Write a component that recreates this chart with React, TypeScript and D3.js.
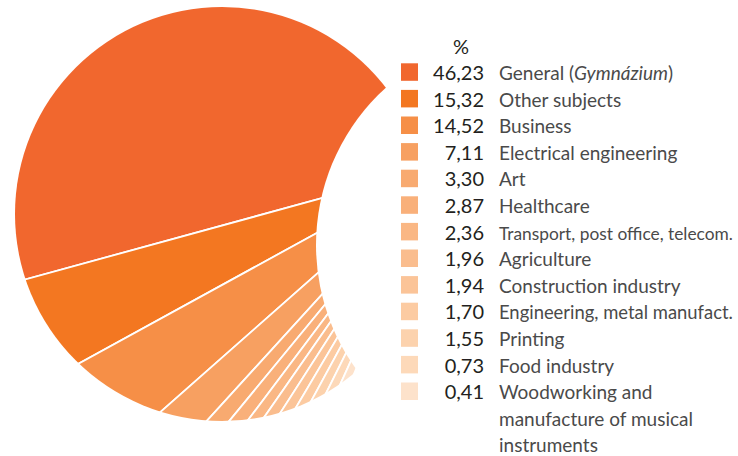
import React, { useLayoutEffect, useRef } from 'react';
import * as d3 from 'd3';

const categories = [
  'General (Gymnázium)',
  'Other subjects',
  'Business',
  'Electrical engineering',
  'Art',
  'Healthcare',
  'Transport, post office, telecom.',
  'Agriculture',
  'Construction industry',
  'Engineering, metal manufact.',
  'Printing',
  'Food industry',
  'Woodworking and manufacture of musical instruments',
];
const values = [46.23, 15.32, 14.52, 7.11, 3.3, 2.87, 2.36, 1.96, 1.94, 1.7, 1.55, 0.73, 0.41];
const colors = [
  '#f1672e', '#f37721', '#f68f47', '#f7a061', '#f8aa70', '#f9b07a', '#fab784',
  '#fabd8e', '#fbc498', '#fccba2', '#fcd2ad', '#fdd9b9', '#fde2cb',
];
const generalParts = ['General (', 'Gymnázium', ')'];
const woodLines = ['Woodworking and', 'manufacture of musical', 'instruments'];

const W = 738;
const H = 456;
const FAN = { x: 439, y: 166, r: 560 };
const OUTER = { x: 222, y: 214, r: 207 };
const CUT = { x: 528, y: 245, r: 212 };
const DEG_PER_PCT = 0.875;
const MIN_PCT = 2.4;
const START_DEG = 254.66;
const LABEL_X = 499;
const LABEL_FS = 19;
const MAX_LABEL_W = W - LABEL_X - 5;

const fmt = (v: number) => d3.format('.2f')(v).replace('.', ',');

export default function App() {
  const legendRef = useRef<SVGGElement>(null);

  useLayoutEffect(() => {
    if (!legendRef.current) return;
    d3.select(legendRef.current)
      .selectAll<SVGTextElement, unknown>('text.lbl')
      .each(function () {
        const w = this.getComputedTextLength();
        if (w > MAX_LABEL_W) {
          this.setAttribute('font-size', String((LABEL_FS * MAX_LABEL_W) / w));
        }
      });
  }, []);

  const rad = (d: number) => (d * Math.PI) / 180;
  const items = categories.map((c, i) => ({ c, v: values[i], color: colors[i] }));
  const rest = items.slice(1);
  const shown = (d: { v: number }) => Math.max(d.v, MIN_PCT);
  const span = d3.sum(rest, shown) * DEG_PER_PCT;
  const a0 = rad(START_DEG);
  const a1 = rad(START_DEG - span);
  const slices = d3
    .pie<{ c: string; v: number; color: string }>()
    .sort(null)
    .value(shown)
    .startAngle(a0)
    .endAngle(a1)(rest);
  const arc = d3.arc<any>().innerRadius(0).outerRadius(FAN.r);
  const generalPath = arc({ startAngle: a0, endAngle: Math.PI * 2 });

  const rowY = d3.scaleLinear().domain([0, 1]).range([80, 106.6]);

  return (
    <div style={{ position: 'absolute', left: 0, top: 0 }}>
      <svg width={W} height={H} style={{ display: 'block' }}>
        <defs>
          <mask id="crescent" maskUnits="userSpaceOnUse" x={0} y={0} width={W} height={H}>
            <circle cx={OUTER.x} cy={OUTER.y} r={OUTER.r} fill="#fff" />
            <circle cx={CUT.x} cy={CUT.y} r={CUT.r} fill="#000" />
          </mask>
        </defs>
        <g mask="url(#crescent)">
          <g transform={`translate(${FAN.x},${FAN.y})`}>
            <path d={generalPath || ''} fill={items[0].color} stroke="#fff" strokeWidth={1.8} />
            {slices.map((s, i) => (
              <path key={i} d={arc(s) || ''} fill={s.data.color} stroke="#fff" strokeWidth={1.8} />
            ))}
          </g>
        </g>
        <g ref={legendRef} fontFamily="Lato, 'Open Sans', sans-serif">
          <text x={461} y={54} textAnchor="middle" fill="#231f20" fontSize={20}>%</text>
          {items.map((d, i) => {
            const y = rowY(i);
            return (
              <g key={i}>
                <rect x={401} y={y - 16.7} width={17} height={17.5} fill={d.color} />
                <text x={484} y={y} textAnchor="end" fill="#231f20" fontSize={20}>{fmt(d.v)}</text>
                {i === 0 ? (
                  <text className="lbl" x={LABEL_X} y={y} fill="#4a4a4a" fontSize={LABEL_FS}>
                    {generalParts[0]}
                    <tspan fontStyle="italic">{generalParts[1]}</tspan>
                    {generalParts[2]}
                  </text>
                ) : i === items.length - 1 ? (
                  woodLines.map((t, j) => (
                    <text key={j} className="lbl" x={LABEL_X} y={y + j * 26.3} fill="#4a4a4a" fontSize={LABEL_FS}>
                      {t}
                    </text>
                  ))
                ) : (
                  <text className="lbl" x={LABEL_X} y={y} fill="#4a4a4a" fontSize={LABEL_FS}>
                    {d.c}
                  </text>
                )}
              </g>
            );
          })}
        </g>
      </svg>
    </div>
  );
}
